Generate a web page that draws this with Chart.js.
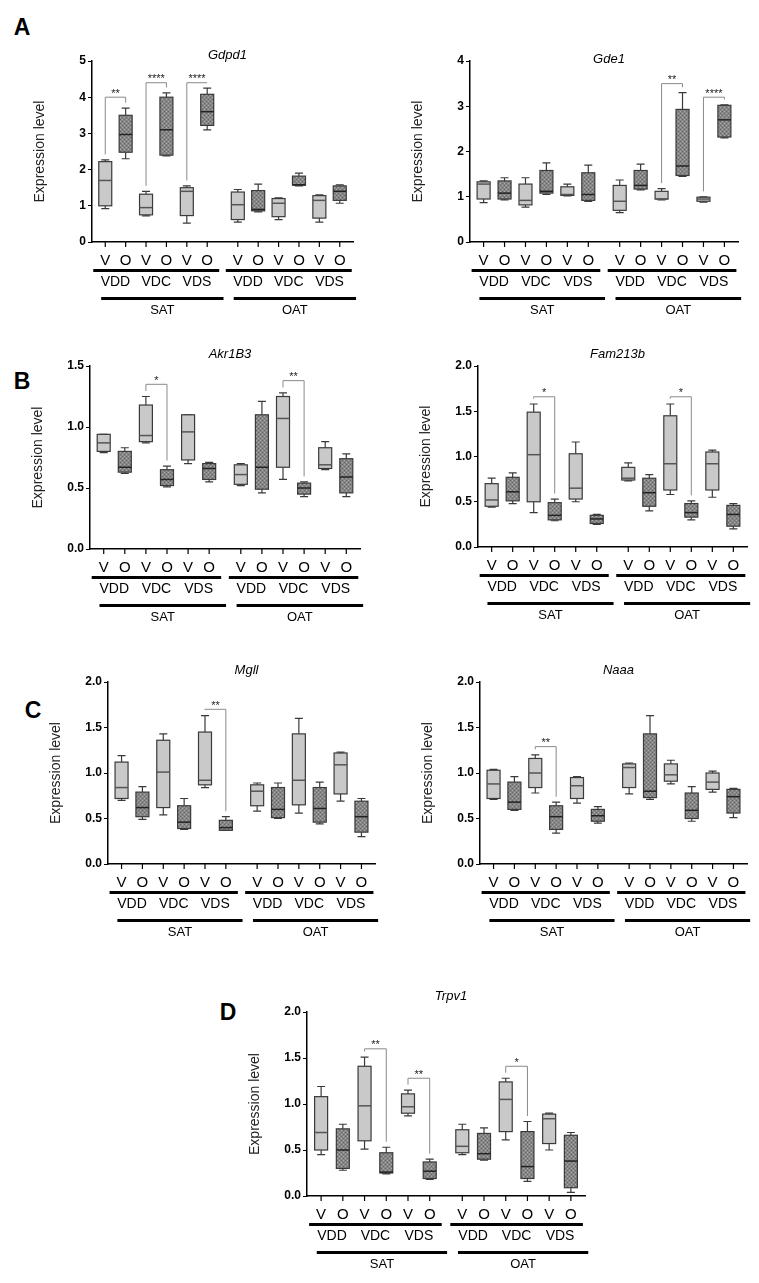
<!DOCTYPE html>
<html>
<head>
<meta charset="utf-8">
<script src="https://cdn.jsdelivr.net/npm/chart.js@4/dist/chart.umd.min.js"></script>
<style>
  body { margin: 0; background: #fff; font-family: "Liberation Sans", Arial, sans-serif; }
  #page { position: relative; width: 759px; height: 1283px; }
  canvas { position: absolute; }
  .lab { position: absolute; font: bold 23px "Liberation Sans", Arial, sans-serif; transform: translate(-50%, -50%); }
</style>
</head>
<body>
<div id="page">
  <div class="lab" style="left:22px;top:27px">A</div>
  <div class="lab" style="left:22px;top:381px">B</div>
  <div class="lab" style="left:33px;top:710px">C</div>
  <div class="lab" style="left:228px;top:1012px">D</div>
</div>
<script>
// box positions (x units) and labels
const boxX = [0, 1, 2, 3, 4, 5, 6.5, 7.5, 8.5, 9.5, 10.5, 11.5];
const boxLabels = ["V", "O", "V", "O", "V", "O", "V", "O", "V", "O", "V", "O"];
const groupLabels = ["VDD", "VDC", "VDS", "VDD", "VDC", "VDS"];
const tissueLabels = ["SAT", "OAT"];

// [min, q1, median, q3, max] per box
const gdpd1 = [[0.92,1.0,1.7,2.22,2.27],[2.3,2.48,2.97,3.5,3.7],[0.72,0.75,0.95,1.32,1.4],[2.38,2.4,3.1,4.0,4.12],
  [0.52,0.73,1.4,1.5,1.55],[3.1,3.22,3.6,4.08,4.25],[0.55,0.62,1.03,1.38,1.45],[0.83,0.86,0.9,1.42,1.6],
  [0.62,0.7,1.07,1.2,1.22],[1.55,1.57,1.58,1.82,1.9],[0.55,0.66,1.15,1.28,1.3],[1.07,1.15,1.4,1.55,1.58]];
const gde1 = [[0.87,0.95,1.28,1.33,1.35],[0.93,0.95,1.08,1.35,1.42],[0.77,0.82,0.92,1.28,1.42],[1.05,1.08,1.12,1.58,1.75],
  [1.02,1.03,1.05,1.22,1.28],[0.9,0.92,1.05,1.53,1.7],[0.65,0.7,0.9,1.25,1.37],[1.15,1.17,1.25,1.58,1.72],
  [0.93,0.95,0.95,1.12,1.18],[1.45,1.47,1.68,2.93,3.3],[0.88,0.9,0.95,0.99,1.0],[2.3,2.32,2.7,3.02,3.03]];
const akr1b3 = [[0.79,0.8,0.87,0.94,0.94],[0.62,0.63,0.67,0.8,0.83],[0.87,0.88,0.93,1.18,1.25],[0.51,0.52,0.57,0.65,0.68],
  [0.7,0.73,0.96,1.1,1.1],[0.55,0.57,0.66,0.7,0.71],[0.52,0.53,0.61,0.69,0.7],[0.46,0.49,0.67,1.1,1.21],
  [0.57,0.67,1.07,1.25,1.28],[0.43,0.45,0.5,0.54,0.55],[0.65,0.66,0.69,0.83,0.88],[0.43,0.46,0.59,0.74,0.78]];
const fam213b = [[0.44,0.45,0.52,0.7,0.76],[0.48,0.51,0.61,0.77,0.82],[0.38,0.5,1.02,1.49,1.58],[0.29,0.3,0.35,0.49,0.53],
  [0.5,0.53,0.65,1.03,1.16],[0.25,0.26,0.31,0.35,0.36],[0.73,0.74,0.76,0.88,0.93],[0.4,0.45,0.6,0.76,0.8],
  [0.58,0.63,0.92,1.45,1.58],[0.3,0.33,0.38,0.48,0.51],[0.55,0.63,0.92,1.05,1.07],[0.2,0.23,0.36,0.46,0.48]];
const mgll = [[0.7,0.72,0.84,1.12,1.19],[0.49,0.52,0.62,0.79,0.85],[0.54,0.62,1.01,1.36,1.43],[0.38,0.39,0.46,0.64,0.72],
  [0.84,0.87,0.92,1.45,1.63],[0.37,0.37,0.4,0.48,0.52],[0.58,0.64,0.8,0.87,0.89],[0.5,0.51,0.6,0.84,0.89],
  [0.56,0.65,0.92,1.43,1.6],[0.44,0.46,0.61,0.84,0.9],[0.69,0.77,1.09,1.22,1.23],[0.3,0.35,0.52,0.69,0.72]];
const naaa = [[0.71,0.72,0.88,1.03,1.04],[0.59,0.6,0.68,0.9,0.96],[0.78,0.84,1.0,1.16,1.2],[0.34,0.38,0.52,0.64,0.68],
  [0.67,0.72,0.86,0.95,0.96],[0.45,0.47,0.53,0.6,0.63],[0.77,0.84,1.06,1.1,1.11],[0.71,0.73,0.8,1.43,1.63],
  [0.88,0.91,0.98,1.1,1.14],[0.47,0.5,0.59,0.78,0.85],[0.79,0.82,0.9,1.0,1.02],[0.51,0.56,0.74,0.82,0.83]];
const trpv1 = [[0.45,0.5,0.69,1.08,1.19],[0.28,0.3,0.5,0.73,0.78],[0.51,0.6,0.98,1.41,1.51],[0.24,0.25,0.26,0.47,0.53],
  [0.87,0.9,0.97,1.11,1.15],[0.18,0.19,0.27,0.37,0.4],[0.45,0.47,0.54,0.72,0.78],[0.39,0.4,0.46,0.68,0.74],
  [0.61,0.7,1.05,1.24,1.28],[0.16,0.19,0.32,0.7,0.81],[0.5,0.57,0.84,0.89,0.9],[0.04,0.09,0.38,0.66,0.69]];

// significance brackets: [left box, right box, level, stars]
const gdpd1Sig = [[0, 1, 4.0, "**"], [2, 3, 4.4, "****"], [4, 5, 4.4, "****"]];
const gde1Sig = [[8, 9, 3.5, "**"], [10, 11, 3.2, "****"]];
const akr1b3Sig = [[2, 3, 1.35, "*"], [8, 9, 1.38, "**"]];
const fam213bSig = [[2, 3, 1.66, "*"], [8, 9, 1.66, "*"]];
const mgllSig = [[4, 5, 1.7, "**"]];
const naaaSig = [[2, 3, 1.29, "**"]];
const trpv1Sig = [[2, 3, 1.6, "**"], [4, 5, 1.28, "**"], [8, 9, 1.41, "*"]];

const panels = [
  { title: "Gdpd1", stats: gdpd1, sig: gdpd1Sig, ymax: 5, step: 1, dec: 0, ax: 92, end: 353, top: 61, bottom: 242, tdy: -4 },
  { title: "Gde1", stats: gde1, sig: gde1Sig, ymax: 4, step: 1, dec: 0, ax: 470, end: 738, top: 61, bottom: 242, tdy: 0 },
  { title: "Akr1B3", stats: akr1b3, sig: akr1b3Sig, ymax: 1.5, step: 0.5, dec: 1, ax: 90, end: 360, top: 366, bottom: 549, tdy: -10 },
  { title: "Fam213b", stats: fam213b, sig: fam213bSig, ymax: 2, step: 0.5, dec: 1, ax: 478, end: 747, top: 366, bottom: 547, tdy: -10 },
  { title: "Mgll", stats: mgll, sig: mgllSig, ymax: 2, step: 0.5, dec: 1, ax: 108, end: 375, top: 682, bottom: 864, tdy: -10 },
  { title: "Naaa", stats: naaa, sig: naaaSig, ymax: 2, step: 0.5, dec: 1, ax: 480, end: 747, top: 682, bottom: 864, tdy: -10 },
  { title: "Trpv1", stats: trpv1, sig: trpv1Sig, ymax: 2, step: 0.5, dec: 1, ax: 307, end: 585, top: 1012, bottom: 1196, tdy: -14 }
];

const FONT = "'Liberation Sans', Arial, sans-serif";
const PAD_TOP = 30, Y_W = 62, X_H = 82;

function hatch(g0) {
  const c = document.createElement("canvas"); c.width = 4; c.height = 4;
  const g = c.getContext("2d");
  g.fillStyle = "#858585"; g.fillRect(0, 0, 4, 4);
  g.fillStyle = "#aaaaaa"; g.fillRect(0, 0, 1, 1); g.fillRect(2, 2, 1, 1);
  g.fillStyle = "#6a6a6a"; g.fillRect(2, 0, 1, 1); g.fillRect(0, 2, 1, 1);
  return g0.createPattern(c, "repeat");
}

const boxPlugin = {
  id: "boxes",
  afterDatasetsDraw(chart) {
    const p = chart.options.plugins.boxes.panel;
    const ctx = chart.ctx, xs = chart.scales.x, ys = chart.scales.y;
    const a = chart.chartArea;
    const px = v => xs.getPixelForValue(v), py = v => ys.getPixelForValue(v);
    const hw = 6.5, cap = 4;
    const pat = hatch(ctx);
    ctx.save();
    p.stats.forEach((s, i) => {
      const cx = px(boxX[i]);
      ctx.strokeStyle = "#3a3a3a"; ctx.lineWidth = 1.2;
      ctx.beginPath();
      ctx.moveTo(cx, py(s[0])); ctx.lineTo(cx, py(s[1]));
      ctx.moveTo(cx, py(s[3])); ctx.lineTo(cx, py(s[4]));
      ctx.moveTo(cx - cap, py(s[0])); ctx.lineTo(cx + cap, py(s[0]));
      ctx.moveTo(cx - cap, py(s[4])); ctx.lineTo(cx + cap, py(s[4]));
      ctx.stroke();
      ctx.fillStyle = i % 2 ? pat : "#c9c9c9";
      ctx.fillRect(cx - hw, py(s[3]), hw * 2, py(s[1]) - py(s[3]));
      ctx.strokeRect(cx - hw, py(s[3]), hw * 2, py(s[1]) - py(s[3]));
      ctx.beginPath(); ctx.moveTo(cx - hw, py(s[2])); ctx.lineTo(cx + hw, py(s[2]));
      ctx.lineWidth = 1.5; ctx.strokeStyle = i % 2 ? "#222" : "#555"; ctx.stroke();
    });
    // significance brackets
    ctx.strokeStyle = "#8a8a8a"; ctx.lineWidth = 1; ctx.fillStyle = "#222";
    ctx.font = "11px " + FONT; ctx.textAlign = "center"; ctx.textBaseline = "bottom";
    const off = p.ymax * 0.03;
    p.sig.forEach(([l, r, lev, st]) => {
      const x1 = px(boxX[l]), x2 = px(boxX[r]);
      ctx.beginPath();
      ctx.moveTo(x1, py(p.stats[l][4] + off)); ctx.lineTo(x1, py(lev));
      ctx.lineTo(x2, py(lev)); ctx.lineTo(x2, py(p.stats[r][4] + off));
      ctx.stroke();
      ctx.fillText(st, (x1 + x2) / 2, py(lev) + 2);
    });
    // x ticks
    ctx.strokeStyle = "#000"; ctx.lineWidth = 1.2;
    boxX.forEach(v => { ctx.beginPath(); ctx.moveTo(px(v), a.bottom); ctx.lineTo(px(v), a.bottom + 5); ctx.stroke(); });
    // labels
    const b = a.bottom;
    ctx.fillStyle = "#000"; ctx.textBaseline = "middle";
    ctx.font = "15px " + FONT;
    boxLabels.forEach((t, i) => ctx.fillText(t, px(boxX[i]), b + 19));
    ctx.font = "14px " + FONT;
    groupLabels.forEach((t, g) => {
      const x1 = px(boxX[g * 2]) - 12, x2 = px(boxX[g * 2 + 1]) + 12;
      ctx.fillRect(x1, b + 27, x2 - x1, 3);
      ctx.fillText(t, (x1 + x2) / 2, b + 40);
    });
    ctx.font = "13px " + FONT;
    tissueLabels.forEach((t, k) => {
      const x1 = px(boxX[k * 6] - 0.2), x2 = px(boxX[k * 6 + 5] + 0.8);
      ctx.fillRect(x1, b + 55, x2 - x1, 3);
      ctx.fillText(t, (x1 + x2) / 2, b + 68);
    });
    // title
    ctx.font = "italic 13px " + FONT;
    ctx.fillText(p.title, (a.left + a.right) / 2 + 5, a.top + p.tdy - 2);
    ctx.restore();
  }
};

const page = document.getElementById("page");
panels.forEach(p => {
  const cv = document.createElement("canvas");
  const left = p.ax - Y_W, top = p.top - PAD_TOP;
  const w = p.end - left + 4, h = p.bottom - p.top + PAD_TOP + X_H;
  cv.style.left = left + "px"; cv.style.top = top + "px";
  cv.width = w; cv.height = h;
  page.appendChild(cv);
  new Chart(cv, {
    type: "scatter",
    data: { datasets: [{ data: p.stats.map((s, i) => ({ x: boxX[i], y: s[2] })), pointRadius: 0 }] },
    options: {
      responsive: false, animation: false, events: [],
      layout: { padding: { top: PAD_TOP, right: 4, left: 0, bottom: 0 } },
      plugins: { legend: { display: false }, tooltip: { enabled: false }, boxes: { panel: p } },
      scales: {
        x: {
          type: "linear", min: -0.65, max: 12.15,
          grid: { display: false }, ticks: { display: false },
          border: { color: "#000", width: 1.5 },
          afterFit: s => { s.height = X_H; }
        },
        y: {
          min: 0, max: p.ymax,
          ticks: { stepSize: p.step, color: "#000", font: { family: FONT, size: 12, weight: "bold" }, padding: 2,
            callback: v => v.toFixed(p.dec) },
          grid: { drawOnChartArea: false, drawTicks: true, tickLength: 4, color: "#000" },
          border: { color: "#000", width: 1.5 },
          title: { display: true, text: "Expression level", color: "#222", font: { family: FONT, size: 14 }, padding: 2 },
          afterFit: s => { s.width = Y_W; }
        }
      }
    },
    plugins: [boxPlugin]
  });
});
</script>
</body>
</html>
